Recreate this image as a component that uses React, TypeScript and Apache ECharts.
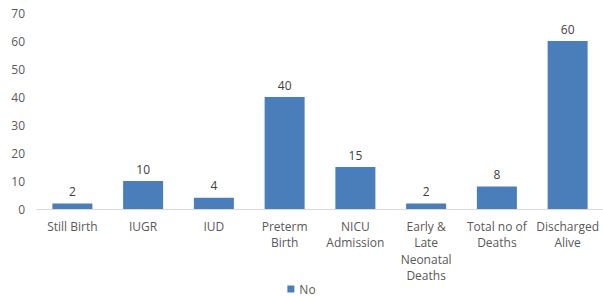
import React, { useEffect, useRef } from "react";
import * as echarts from "echarts";

const categories = [
  "Still Birth",
  "IUGR",
  "IUD",
  "Preterm\nBirth",
  "NICU\nAdmission",
  "Early &\nLate\nNeonatal\nDeaths",
  "Total no of\nDeaths",
  "Discharged\nAlive",
];
const values = [2, 10, 4, 40, 15, 2, 8, 60];
const seriesName = "No";

export default function App() {
  const ref = useRef<HTMLDivElement>(null);
  useEffect(() => {
    document.body.style.margin = "0";
    const chart = echarts.init(ref.current!, null, { renderer: "svg" });
    const font = "'Open Sans', sans-serif";
    chart.setOption({
      animation: false,
      textStyle: { fontFamily: font },
      grid: { left: 37, right: 0, top: 13, bottom: 87, containLabel: false },
      legend: {
        data: [seriesName],
        bottom: 1,
        padding: 0,
        left: "center",
        itemWidth: 7,
        itemHeight: 7,
        icon: "rect",
        itemGap: 5,
        textStyle: { color: "#595959", fontSize: 12, fontFamily: font },
      },
      xAxis: {
        type: "category",
        data: categories,
        axisLine: { lineStyle: { color: "#d9d9d9" } },
        axisTick: { show: false },
        axisLabel: {
          color: "#595959",
          fontSize: 12,
          lineHeight: 16.5,
          interval: 0,
          margin: 9,
          fontFamily: font,
        },
      },
      yAxis: {
        type: "value",
        min: 0,
        max: 70,
        interval: 10,
        splitLine: { show: false },
        axisLine: { show: false },
        axisTick: { show: false },
        axisLabel: { color: "#595959", fontSize: 12, margin: 12, fontFamily: font },
      },
      series: [
        {
          name: seriesName,
          type: "bar",
          data: values,
          barWidth: 40,
          itemStyle: { color: "#4a7ebb" },
          label: {
            show: true,
            position: "top",
            distance: 6,
            color: "#404040",
            fontSize: 12,
            fontFamily: font,
          },
        },
      ],
    });
    return () => chart.dispose();
  }, []);
  return <div ref={ref} style={{ width: 603, height: 296 }} />;
}
